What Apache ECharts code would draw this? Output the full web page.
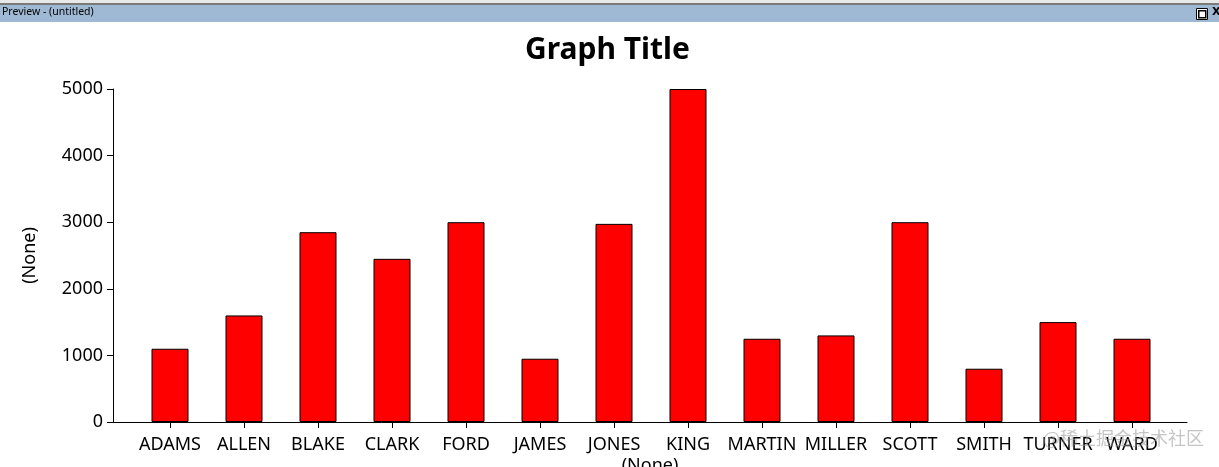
<!DOCTYPE html>
<html><head><meta charset="utf-8">
<script src="https://cdn.jsdelivr.net/npm/echarts@6/dist/echarts.min.js"></script>
<style>html,body{margin:0;padding:0;background:#fff}#c{width:1219px;height:467px}</style>
</head><body><div id="c"></div>
<script>
const categories = ['ADAMS','ALLEN','BLAKE','CLARK','FORD','JAMES','JONES','KING','MARTIN','MILLER','SCOTT','SMITH','TURNER','WARD'];
const salaries = [1100,1600,2850,2450,3000,950,2975,5000,1250,1300,3000,800,1500,1250];
const yTicks = [0,1000,2000,3000,4000,5000];
const titleText = 'Graph Title';
const axisNameText = '(None)';
const windowTitle = 'Preview - (untitled)';
const watermark = '@稀土掘金技术社区';

const font = 'Noto Sans';
const chart = echarts.init(document.getElementById('c'), null, {renderer:'canvas'});
chart.setOption({
  backgroundColor:'#ffffff',
  animation:false,
  title:{text:titleText,left:525,top:35,padding:0,
    textStyle:{fontFamily:font,fontWeight:'bold',fontSize:30,color:'#000'}},
  grid:[
    {left:133,right:50,top:89,bottom:45,outerBoundsMode:'none',containLabel:false},
    {left:113,right:32,top:89,bottom:45,outerBoundsMode:'none',containLabel:false}
  ],
  xAxis:[
    {type:'category',gridIndex:0,data:categories,boundaryGap:true,
      axisLine:{show:false},
      axisTick:{show:true,alignWithLabel:true,length:6,lineStyle:{color:'#000'}},
      axisLabel:{fontFamily:font,fontSize:18,color:'#000',margin:14,interval:0}},
    {type:'value',gridIndex:1,min:0,max:1,
      axisLine:{show:true,lineStyle:{color:'#000',width:1}},
      axisTick:{show:false},axisLabel:{show:false},splitLine:{show:false},
      name:axisNameText,nameLocation:'middle',nameGap:35,nameMoveOverlap:false,
      nameTextStyle:{fontFamily:font,fontSize:18,color:'#000'}}
  ],
  yAxis:[
    {type:'value',gridIndex:0,min:0,max:5000,interval:1000,show:false,splitLine:{show:false}},
    {type:'value',gridIndex:1,min:yTicks[0],max:yTicks[yTicks.length-1],interval:1000,
      axisLine:{show:true,lineStyle:{color:'#000',width:1}},
      axisTick:{show:true,length:6,lineStyle:{color:'#000'}},
      axisLabel:{fontFamily:font,fontSize:18,color:'#000',margin:10,formatter:function(v){return String(v);}},
      splitLine:{show:false},
      name:axisNameText,nameLocation:'middle',nameGap:74,nameRotate:90,
      nameTextStyle:{fontFamily:font,fontSize:18,color:'#000'}}
  ],
  series:[{type:'bar',xAxisIndex:0,yAxisIndex:0,data:salaries,barWidth:'50%',
    itemStyle:{color:'#ff0000',borderColor:'#000',borderWidth:1}}],
  graphic:[
    {type:'rect',left:0,top:0,shape:{width:1219,height:3},style:{fill:'#e8e8e8'},z:100},
    {type:'rect',left:0,top:3,shape:{width:1219,height:2},style:{fill:'#7a7a7a'},z:100},
    {type:'rect',left:0,top:5,shape:{width:1219,height:17},style:{fill:'#9fb8d3'},z:100},
    {type:'text',left:2,top:7,style:{text:windowTitle,font:'10.5px "Noto Sans"',fill:'#000'},z:101},
    {type:'rect',left:1196,top:8,shape:{width:11,height:11},style:{fill:'#fff',stroke:'#000',lineWidth:1},z:101},
    {type:'rect',left:1198,top:10,shape:{width:7,height:7},style:{fill:'#fff',stroke:'#000',lineWidth:1.5},z:102},
    {type:'text',left:1212,top:7,style:{text:'X',font:'bold 11px "DejaVu Sans"',fill:'#000'},z:101},
    {type:'text',right:15,top:429,style:{text:watermark,font:'18px "Noto Sans CJK SC"',fill:'rgba(150,150,150,0.55)'},z:50}
  ]
});
</script></body></html>
